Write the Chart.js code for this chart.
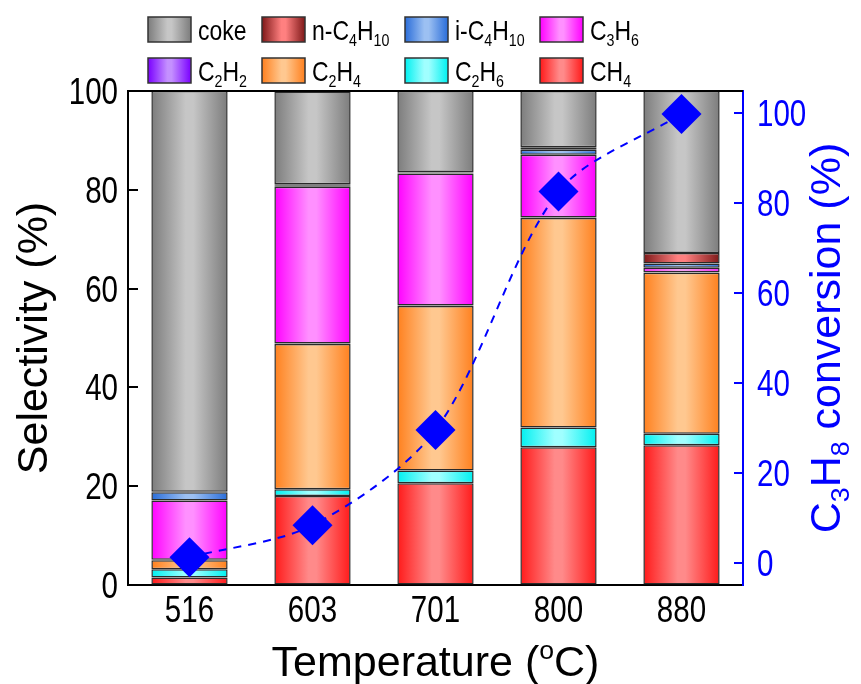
<!DOCTYPE html>
<html lang="en">
<head>
<meta charset="UTF-8">
<title>Selectivity</title>
<script src="https://cdn.jsdelivr.net/npm/chart.js"></script>
<style>
  body { margin: 0; background: #fff; }
  #wrap { width: 861px; height: 684px; position: relative; }
</style>
</head>
<body>
<div id="wrap"><canvas id="myChart"></canvas></div>
<script>
// temperatures (oC)
const temps = ['516', '603', '701', '800', '880'];

// selectivity (%) per product, stacked bottom to top
const ch4    = [1.5, 18.0, 20.6, 27.9, 28.3];
const c2h6   = [1.7, 1.4, 2.6, 4.0, 2.3];
const c2h4   = [1.8, 29.4, 33.3, 42.4, 32.6];
const c2h2   = [0.1, 0.1, 0.1, 0.1, 0.1];
const c3h6   = [12.0, 31.7, 26.7, 12.7, 0.9];
const iC4h10 = [1.7, 0.3, 0.2, 1.0, 0.9];
const nC4h10 = [0.1, 0.2, 0.1, 0.5, 2.1];
const coke   = [81.1, 18.8, 16.4, 11.4, 32.8];

// propane conversion (%)
const conversion = [1.2, 8.3, 29.5, 82.6, 99.9];

const leftTicks = [0, 20, 40, 60, 80, 100];
const rightTicks = [0, 20, 40, 60, 80, 100];

const FONT = '"Liberation Sans", Arial, sans-serif';
const NARROW = 0.82; // horizontal squeeze for tick and legend text

// name, data, edge colour, centre colour
const series = [
    ['CH4', ch4, '#ff1a1a', '#ff8a8a'],
    ['C2H6', c2h6, '#00f0f0', '#a0ffff'],
    ['C2H4', c2h4, '#ff801e', '#ffc890'],
    ['C2H2', c2h2, '#7a00ff', '#c490ff'],
    ['C3H6', c3h6, '#ff00ff', '#ff90ff'],
    ['i-C4H10', iC4h10, '#2a6dd9', '#9cc0f2'],
    ['n-C4H10', nC4h10, '#7e1818', '#ff8080'],
    ['coke', coke, '#7c7c7c', '#c6c6c6']
];
const legendRows = [
    ['coke', 'n-C4H10', 'i-C4H10', 'C3H6'],
    ['C2H2', 'C2H4', 'C2H6', 'CH4']
];

function barGradient(ctx, x0, x1, edge, centre) {
    const g = ctx.createLinearGradient(x0, 0, x1, 0);
    g.addColorStop(0, edge);
    g.addColorStop(0.45, centre);
    g.addColorStop(0.55, centre);
    g.addColorStop(1, edge);
    return g;
}

// split a formula into normal / subscript pieces (digits after a capital or H)
function formula(str) {
    const out = [];
    let prev = '';
    for (const ch of str) {
        const isSub = /\d/.test(ch) && /[A-Z0-9]/.test(prev);
        const type = isSub ? 'sub' : 'n';
        if (out.length && out[out.length - 1][1] === type) out[out.length - 1][0] += ch;
        else out.push([ch, type]);
        prev = ch;
    }
    return out;
}

function drawRich(ctx, parts, x, y, size, align, squeeze) {
    const small = size * 0.62;
    let total = 0;
    parts.forEach(p => {
        ctx.font = (p[1] === 'n' ? size : small) + 'px ' + FONT;
        total += ctx.measureText(p[0]).width;
    });
    ctx.save();
    ctx.translate(x, y);
    ctx.scale(squeeze || 1, 1);
    let cx = 0;
    if (align === 'center') cx = -total / 2;
    if (align === 'right') cx = -total;
    ctx.textAlign = 'left';
    ctx.textBaseline = 'alphabetic';
    parts.forEach(p => {
        const s = p[1] === 'n' ? size : small;
        ctx.font = s + 'px ' + FONT;
        let dy = 0;
        if (p[1] === 'sub') dy = size * 0.22;
        if (p[1] === 'sup') dy = -size * 0.4;
        ctx.fillText(p[0], cx, dy);
        cx += ctx.measureText(p[0]).width;
    });
    ctx.restore();
}

const decorations = {
    id: 'decorations',
    afterDraw(chart) {
        const ctx = chart.ctx;
        const a = chart.chartArea;
        const xs = chart.scales.x, y = chart.scales.y, y2 = chart.scales.y2;
        ctx.save();

        // top frame
        ctx.strokeStyle = '#000';
        ctx.lineWidth = 2;
        ctx.beginPath();
        ctx.moveTo(a.left - 1, a.top);
        ctx.lineTo(a.right, a.top);
        ctx.stroke();

        // inward ticks
        ctx.beginPath();
        leftTicks.forEach(v => {
            const py = Math.round(y.getPixelForValue(v));
            ctx.moveTo(a.left, py);
            ctx.lineTo(a.left + 10, py);
        });
        ctx.stroke();
        ctx.strokeStyle = '#0000ff';
        ctx.beginPath();
        rightTicks.forEach(v => {
            const py = Math.round(y2.getPixelForValue(v));
            ctx.moveTo(a.right, py);
            ctx.lineTo(a.right - 9, py);
        });
        ctx.stroke();

        // tick labels
        const tickSize = 36;
        const half = tickSize * 0.36;
        ctx.fillStyle = '#000';
        leftTicks.forEach(v => {
            drawRich(ctx, [[String(v), 'n']], 118, y.getPixelForValue(v) + half, tickSize, 'right', NARROW);
        });
        temps.forEach((t, i) => {
            drawRich(ctx, [[t, 'n']], xs.getPixelForValue(i), 609 + half, tickSize, 'center', NARROW);
        });
        ctx.fillStyle = '#0000ff';
        rightTicks.forEach(v => {
            drawRich(ctx, [[String(v), 'n']], 757, y2.getPixelForValue(v) + half, tickSize, 'left', NARROW);
        });

        // legend
        const colX = [148, 262, 405, 540];
        const rowY = [17, 58];
        legendRows.forEach((row, r) => {
            row.forEach((name, c) => {
                const s = series.find(e => e[0] === name);
                const x = colX[c], top = rowY[r];
                ctx.fillStyle = barGradient(ctx, x, x + 43, s[2], s[3]);
                ctx.fillRect(x, top, 43, 25);
                ctx.strokeStyle = '#333';
                ctx.lineWidth = 1.5;
                ctx.strokeRect(x, top, 43, 25);
                ctx.fillStyle = '#000';
                drawRich(ctx, formula(name), x + 50, top + 23, 28, 'left', NARROW);
            });
        });

        // axis titles
        ctx.fillStyle = '#000';
        drawRich(ctx, [['Temperature (', 'n'], ['o', 'sup'], ['C)', 'n']], (a.left + a.right) / 2, 676, 43, 'center');

        ctx.save();
        ctx.translate(47, (a.top + a.bottom) / 2);
        ctx.rotate(-Math.PI / 2);
        drawRich(ctx, [['Selectivity (%)', 'n']], 0, 0, 43, 'center');
        ctx.restore();

        ctx.save();
        ctx.fillStyle = '#0000ff';
        ctx.translate(840, (a.top + a.bottom) / 2);
        ctx.rotate(-Math.PI / 2);
        drawRich(ctx, formula('C3H8 conversion (%)'), 0, 0, 43, 'center');
        ctx.restore();

        ctx.restore();
    }
};

const datasets = series.map(s => ({
    type: 'bar',
    label: s[0],
    data: s[1],
    yAxisID: 'y',
    order: 1,
    borderColor: '#2a2a2a',
    borderWidth: 1.5,
    borderSkipped: false,
    barPercentage: 0.62,
    categoryPercentage: 1,
    backgroundColor: function (c) {
        const chart = c.chart;
        if (!chart.chartArea || c.dataIndex === undefined) return s[2];
        const xs = chart.scales.x;
        const cx = xs.getPixelForValue(c.dataIndex);
        const w = xs.width / temps.length * 0.62;
        return barGradient(chart.ctx, cx - w / 2, cx + w / 2, s[2], s[3]);
    }
}));

datasets.push({
    type: 'line',
    label: 'conversion',
    data: conversion,
    yAxisID: 'y2',
    order: 0,
    borderColor: '#0000ff',
    borderWidth: 2,
    borderDash: [8, 7],
    tension: 0.3,
    fill: false,
    pointStyle: 'rectRot',
    pointRadius: 20,
    pointHoverRadius: 20,
    pointBackgroundColor: '#0000ff',
    pointBorderWidth: 0
});

const config = {
    data: { labels: temps, datasets: datasets },
    options: {
        responsive: true,
        maintainAspectRatio: false,
        animation: false,
        layout: { padding: { top: 91, left: 0, right: 0, bottom: 0 } },
        plugins: { legend: { display: false }, tooltip: { enabled: false } },
        scales: {
            x: {
                type: 'category',
                offset: true,
                stacked: true,
                grid: { display: false, drawTicks: false },
                border: { display: true, color: '#000', width: 2 },
                ticks: { display: false },
                afterFit: s => { s.height = 99; }
            },
            y: {
                position: 'left',
                stacked: true,
                min: 0,
                max: 100,
                ticks: { display: false, stepSize: 20 },
                grid: { drawOnChartArea: false, drawTicks: false },
                border: { display: true, color: '#000', width: 2 },
                afterFit: s => { s.width = 128; }
            },
            y2: {
                position: 'right',
                min: -5,
                max: 105,
                afterBuildTicks: s => { s.ticks = rightTicks.map(v => ({ value: v })); },
                ticks: { display: false },
                grid: { drawOnChartArea: false, drawTicks: false },
                border: { display: true, color: '#0000ff', width: 2 },
                afterFit: s => { s.width = 118; }
            }
        }
    },
    plugins: [decorations]
};

const myChart = new Chart(document.getElementById('myChart').getContext('2d'), config);
</script>
</body>
</html>
